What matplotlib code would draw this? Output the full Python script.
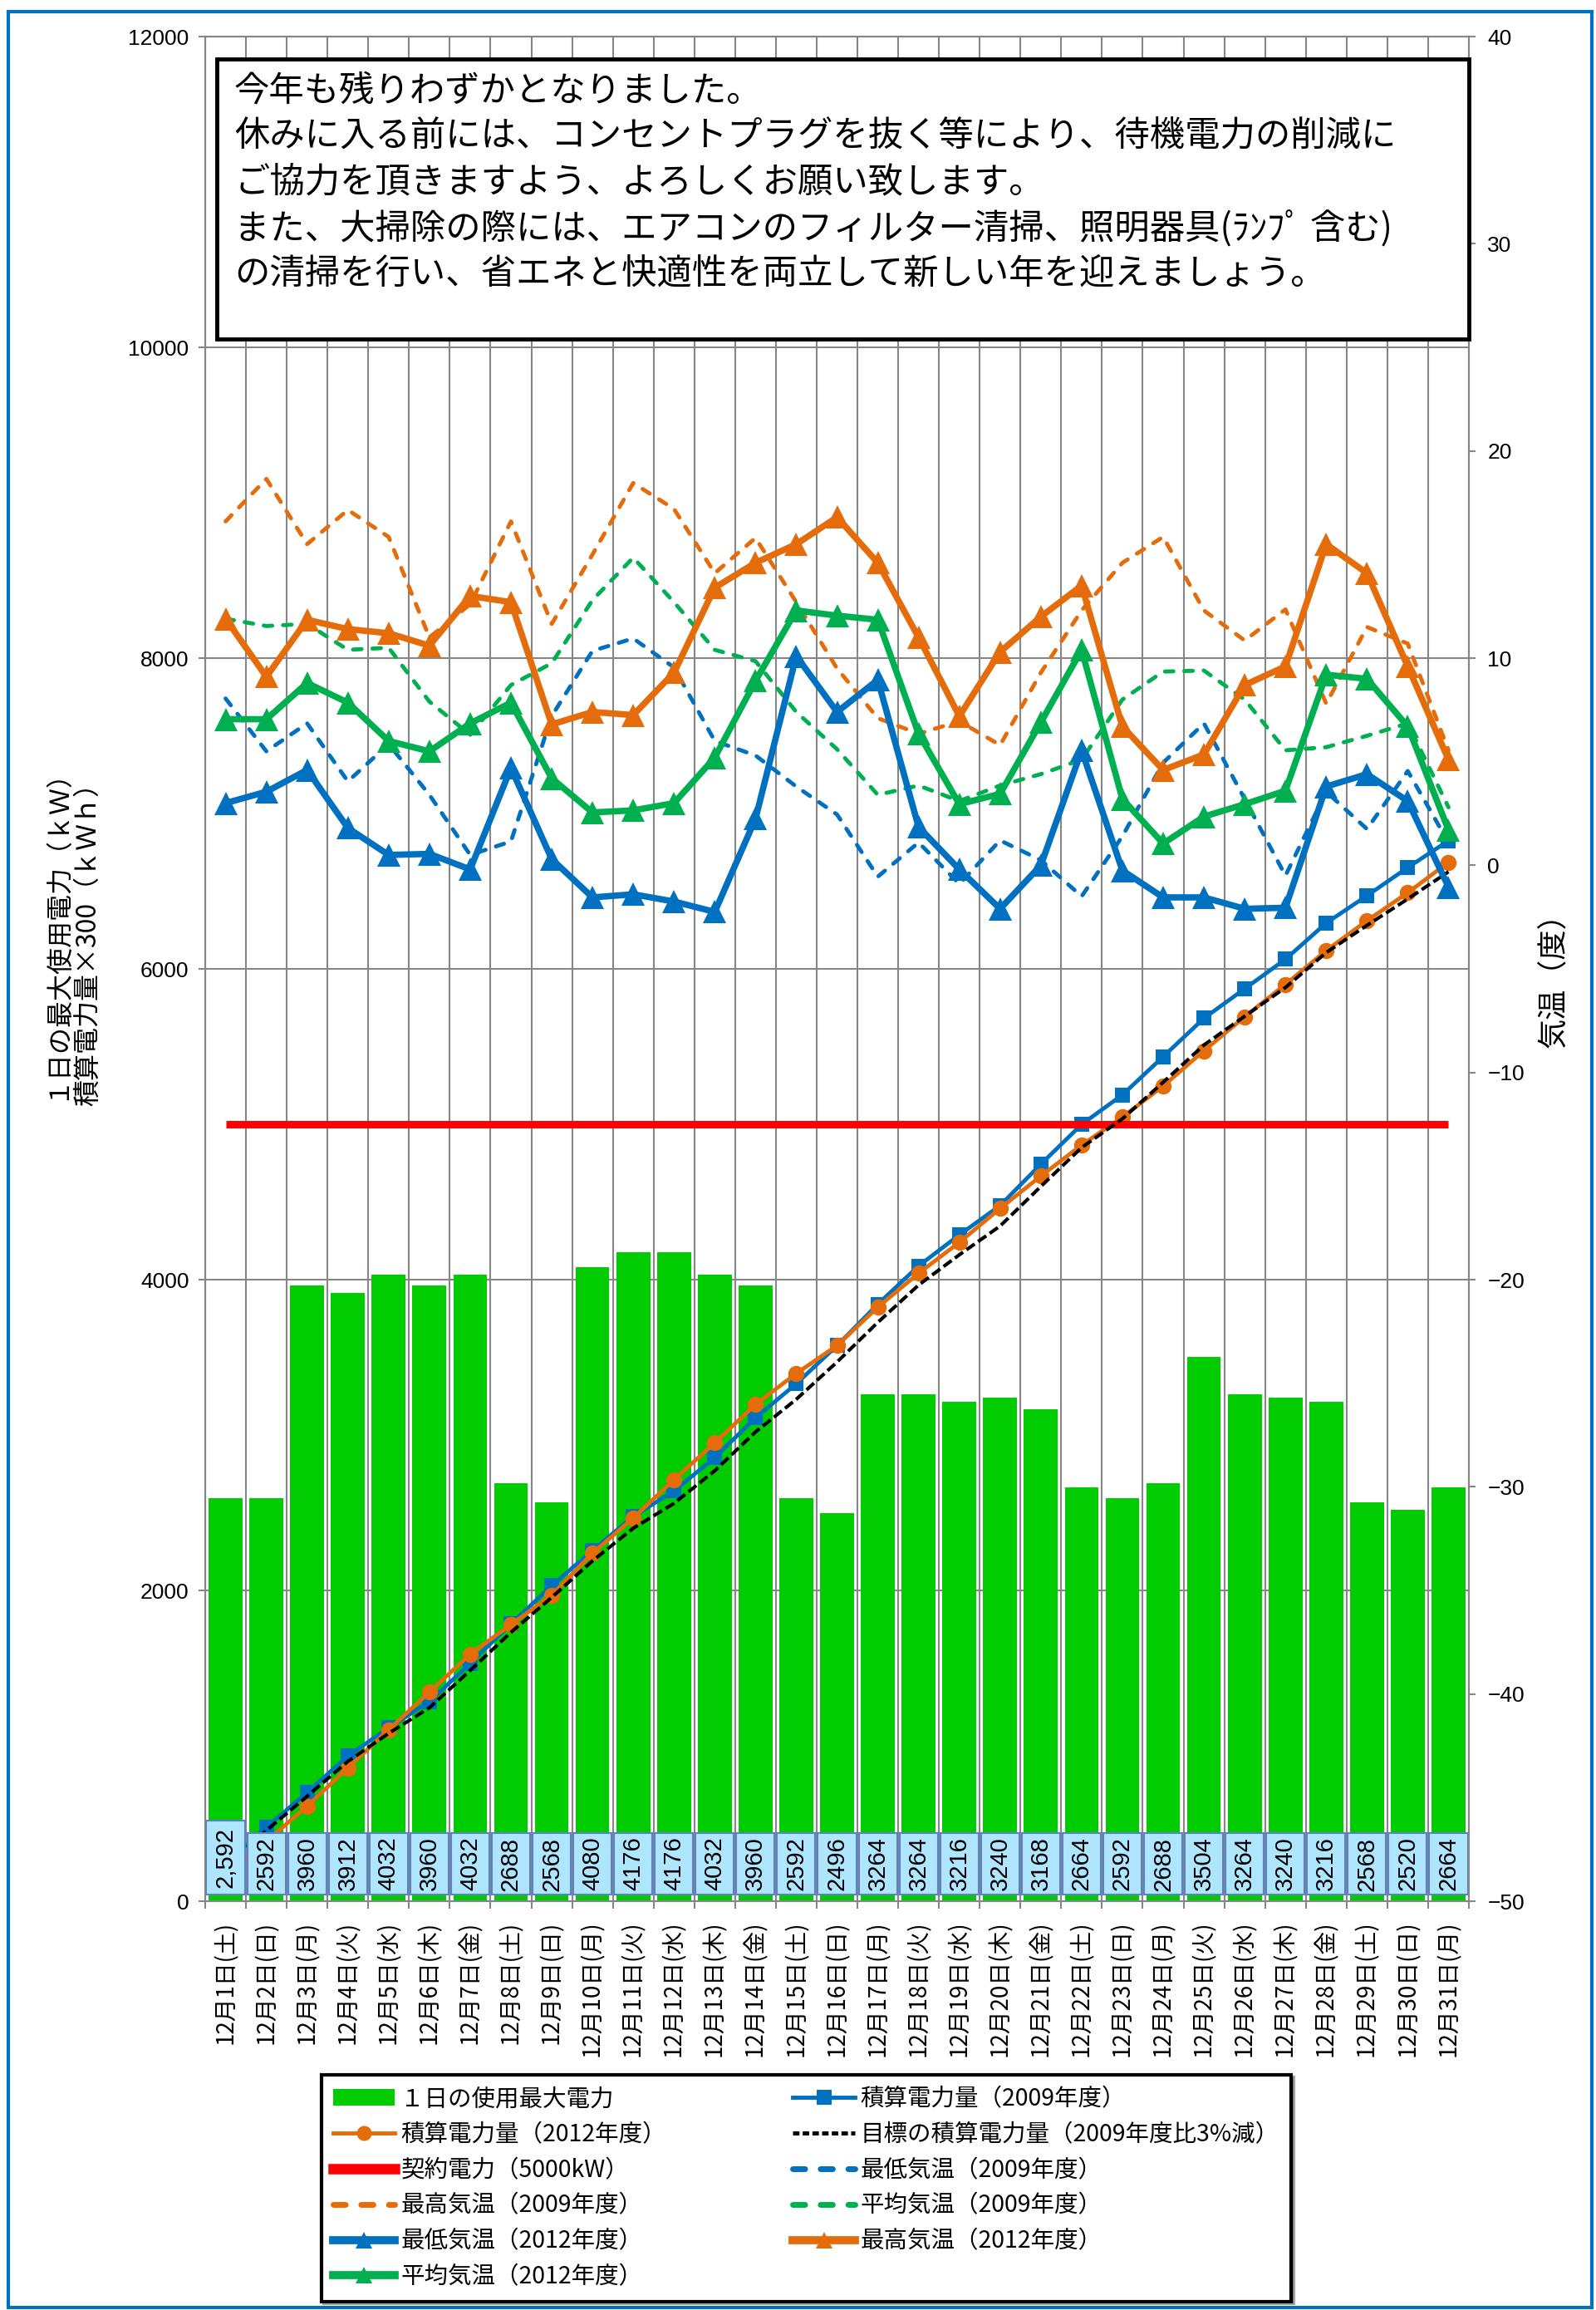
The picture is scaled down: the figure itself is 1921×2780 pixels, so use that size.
import matplotlib
matplotlib.use("Agg")
import matplotlib.pyplot as plt
from matplotlib.patches import Rectangle, Patch
from matplotlib.lines import Line2D

plt.rcParams['font.family'] = ['Noto Sans CJK JP', 'DejaVu Sans']

# ---------------- data ----------------
dates = ["12月1日(土)", "12月2日(日)", "12月3日(月)", "12月4日(火)", "12月5日(水)",
         "12月6日(木)", "12月7日(金)", "12月8日(土)", "12月9日(日)", "12月10日(月)",
         "12月11日(火)", "12月12日(水)", "12月13日(木)", "12月14日(金)", "12月15日(土)",
         "12月16日(日)", "12月17日(月)", "12月18日(火)", "12月19日(水)", "12月20日(木)",
         "12月21日(金)", "12月22日(土)", "12月23日(日)", "12月24日(月)", "12月25日(火)",
         "12月26日(水)", "12月27日(木)", "12月28日(金)", "12月29日(土)", "12月30日(日)",
         "12月31日(月)"]

peak_kw = [2592, 2592, 3960, 3912, 4032, 3960, 4032, 2688, 2568, 4080, 4176, 4176, 4032,
           3960, 2592, 2496, 3264, 3264, 3216, 3240, 3168, 2664, 2592, 2688, 3504, 3264,
           3240, 3216, 2568, 2520, 2664]
peak_labels = ["2,592", "2592", "3960", "3912", "4032", "3960", "4032", "2688", "2568",
               "4080", "4176", "4176", "4032", "3960", "2592", "2496", "3264", "3264",
               "3216", "3240", "3168", "2664", "2592", "2688", "3504", "3264", "3240",
               "3216", "2568", "2520", "2664"]

cum_2009 = [240, 475, 700, 935, 1115, 1285, 1530, 1785, 2030, 2258, 2476, 2640, 2855,
            3111, 3330, 3576, 3842, 4088, 4288, 4477, 4743, 4999, 5189, 5435, 5682, 5872,
            6062, 6295, 6471, 6652, 6825]
cum_2012 = [150, 385, 612, 858, 1104, 1346, 1590, 1780, 1970, 2239, 2466, 2713, 2950,
            3197, 3396, 3576, 3823, 4041, 4240, 4458, 4667, 4866, 5046, 5246, 5473, 5692,
            5900, 6118, 6310, 6490, 6686]
target_cum = [230, 455, 675, 900, 1080, 1245, 1485, 1730, 1955, 2190, 2400, 2560, 2770,
              3020, 3230, 3470, 3725, 3965, 4160, 4345, 4600, 4850, 5035, 5270, 5510,
              5695, 5880, 6105, 6280, 6450, 6625]
contract_kw = 5000

min_2009 = [8.05, 5.5, 6.85, 4.05, 5.85, 3.4, 0.5, 1.15, 7.2, 10.35, 10.95, 9.55, 6.0,
            5.3, 3.8, 2.45, -0.55, 1.1, -0.9, 1.2, 0.25, -1.5, 1.4, 4.95, 6.85, 3.2, -0.5,
            3.55, 1.75, 4.55, 1.1]
max_2009 = [16.6, 18.65, 15.5, 17.15, 15.85, 11.0, 12.6, 16.6, 11.65, 15.0, 18.45, 17.2,
            14.1, 15.8, 12.7, 9.5, 7.1, 6.35, 6.95, 5.8, 9.3, 12.3, 14.6, 15.85, 12.3,
            10.85, 12.35, 7.8, 11.5, 10.7, 5.55]
avg_2009 = [11.9, 11.55, 11.65, 10.4, 10.5, 7.9, 6.3, 8.7, 9.75, 12.8, 14.85, 12.7, 10.4,
            9.85, 7.4, 5.6, 3.4, 3.85, 3.1, 3.85, 4.4, 5.1, 8.0, 9.35, 9.4, 8.0, 5.55, 5.7,
            6.25, 6.85, 2.8]
min_2012 = [3.0, 3.55, 4.6, 1.8, 0.5, 0.55, -0.2, 4.7, 0.3, -1.55, -1.4, -1.75, -2.25,
            2.25, 10.1, 7.4, 8.95, 1.85, -0.2, -2.1, 0.0, 5.55, -0.25, -1.55, -1.55, -2.1,
            -2.05, 3.8, 4.4, 3.1, -1.05]
max_2012 = [11.9, 9.1, 11.85, 11.4, 11.2, 10.6, 13.0, 12.7, 6.8, 7.4, 7.25, 9.3, 13.4,
            14.6, 15.5, 16.8, 14.6, 11.0, 7.2, 10.3, 12.0, 13.5, 6.7, 4.6, 5.35, 8.7, 9.6,
            15.5, 14.1, 9.6, 5.1]
avg_2012 = [7.05, 7.05, 8.8, 7.85, 6.0, 5.5, 6.85, 7.85, 4.2, 2.55, 2.65, 3.0, 5.2, 8.9,
            12.3, 12.05, 11.85, 6.35, 2.95, 3.45, 6.9, 10.4, 3.2, 1.05, 2.35, 2.95, 3.6,
            9.2, 9.0, 6.7, 1.7]

legend_labels = ["１日の使用最大電力", "積算電力量（2009年度）", "積算電力量（2012年度）",
                 "目標の積算電力量（2009年度比3%減）", "契約電力（5000kW）",
                 "最低気温（2009年度）", "最高気温（2009年度）", "平均気温（2009年度）",
                 "最低気温（2012年度）", "最高気温（2012年度）", "平均気温（2012年度）"]

left_title = ["１日の最大使用電力（ｋＷ）", "積算電力量×300（ｋＷｈ）"]
right_title = "気温（度）"

notice_lines = ["今年も残りわずかとなりました。",
                "休みに入る前には、コンセントプラグを抜く等により、待機電力の削減に",
                "ご協力を頂きますよう、よろしくお願い致します。",
                "また、大掃除の際には、エアコンのフィルター清掃、照明器具(ﾗﾝﾌﾟ 含む)",
                "の清掃を行い、省エネと快適性を両立して新しい年を迎えましょう。"]

# ---------------- style ----------------
BLUE = '#0070C0'
ORANGE = '#E46C0A'
GREEN = '#00B050'
BARC = '#00CC00'
RED = '#FF0000'
GRID = '#868686'
NUMFONT = 'Liberation Sans'

W, H = 1921, 2780
fig = plt.figure(figsize=(W / 100, H / 100), dpi=100)
L, R, T, B = 247, 1768, 44, 2288
ax = fig.add_axes([L / W, 1 - B / H, (R - L) / W, (B - T) / H])

x = list(range(len(dates)))
ax.bar(x, peak_kw, width=0.83, color=BARC, zorder=2)
ax.plot(x, cum_2009, color=BLUE, lw=3.5, marker='s', ms=13, mew=0, zorder=3)
ax.plot(x, cum_2012, color=ORANGE, lw=3.5, marker='o', ms=14, mew=0, zorder=4)
ax.plot(x, [contract_kw] * len(x), color=RED, lw=6.5, zorder=5, solid_capstyle='butt')
ax.plot(x, target_cum, color='black', lw=3, ls=(0, (2.9, 1.2)), zorder=6)

for i, lab in enumerate(peak_labels):
    top = 519 if ',' in lab else 438
    ax.add_patch(Rectangle((i - 0.47, 43), 0.94, top - 43, fc='#AFE6FF', ec='#5B83C0',
                           lw=1.5, zorder=8))
    ax.text(i, (43 + top) / 2, lab, rotation=90, ha='center', va='center', fontsize=21,
            family=NUMFONT, zorder=9)

ax.set_xlim(-0.5, len(x) - 0.5)
ax.set_ylim(0, 12000)
ax.set_yticks(range(0, 12001, 2000))
ax.set_xticks(x)
ax.set_xticklabels(dates, rotation=90, fontsize=20)
ax.set_xticks([i - 0.5 for i in range(len(x) + 1)], minor=True)
ax.tick_params(axis='x', which='major', length=0, pad=17)
ax.tick_params(axis='x', which='minor', length=6.5, width=1.5, color=GRID, direction='out')
ax.tick_params(axis='y', length=6, width=1.5, color=GRID, direction='out', pad=8,
               labelsize=19)
for t in ax.get_yticklabels():
    t.set_family(NUMFONT)
ax.yaxis.grid(True, which='major', color=GRID, lw=1.5)
ax.xaxis.grid(True, which='minor', color=GRID, lw=1.5)
ax.xaxis.grid(False, which='major')
ax.set_axisbelow(True)
for s in ax.spines.values():
    s.set_color(GRID)
    s.set_linewidth(1.5)

ax2 = ax.twinx()
dash09 = (0, (2.1, 2.7))
ax2.plot(x, min_2009, color=BLUE, lw=3.5, ls=dash09, dash_capstyle='round', zorder=2)
ax2.plot(x, max_2009, color=ORANGE, lw=3.5, ls=dash09, dash_capstyle='round', zorder=2)
ax2.plot(x, avg_2009, color=GREEN, lw=3.5, ls=dash09, dash_capstyle='round', zorder=2)
ax2.plot(x, min_2012, color=BLUE, lw=5.5, marker='^', ms=20, mew=0, zorder=3)
ax2.plot(x, max_2012, color=ORANGE, lw=5.5, marker='^', ms=20, mew=0, zorder=3)
ax2.plot(x, avg_2012, color=GREEN, lw=5.5, marker='^', ms=20, mew=0, zorder=3)
ax2.set_ylim(-50, 40)
ax2.set_yticks(range(-50, 41, 10))
ax2.tick_params(axis='y', length=6, width=1.5, color=GRID, direction='out', pad=10,
                labelsize=19)
for t in ax2.get_yticklabels():
    t.set_family(NUMFONT)
for s in ax2.spines.values():
    s.set_color(GRID)
    s.set_linewidth(1.5)

# axis titles
fig.text(67 / W, 1 - 1116 / H, left_title[0], rotation=90, ha='center',
         va='center', fontsize=23)
fig.text(106 / W, 1 - 1128 / H, left_title[1], rotation=90, ha='center',
         va='center', fontsize=23)
fig.text(1871 / W, 1 - 1171 / H, right_title, rotation=90, ha='center', va='center',
         fontsize=26)

# notice box
fig.add_artist(Rectangle((261 / W, 1 - 408 / H), (1768 - 261) / W, (408 - 71) / H,
                         transform=fig.transFigure, fc='white', ec='black', lw=3.5,
                         zorder=10))
for k, line in enumerate(notice_lines):
    fig.text(282 / W, 1 - (110 + 55 * k) / H, line, ha='left', va='center',
             fontsize=30.5, zorder=11)

# legend
dash_leg = (0, (2.1, 2.7))
handles = [
    Patch(fc=BARC, ec='none'),
    Line2D([], [], color=BLUE, lw=3.5, marker='s', ms=13, mew=0),
    Line2D([], [], color=ORANGE, lw=3.5, marker='o', ms=13, mew=0),
    Line2D([], [], color='black', lw=3.5, ls=(0, (1.6, 0.8))),
    Line2D([], [], color=RED, lw=9),
    Line2D([], [], color=BLUE, lw=5, ls=dash_leg, dash_capstyle='round'),
    Line2D([], [], color=ORANGE, lw=5, ls=dash_leg, dash_capstyle='round'),
    Line2D([], [], color=GREEN, lw=5, ls=dash_leg, dash_capstyle='round'),
    Line2D([], [], color=BLUE, lw=7, marker='^', ms=15, mew=0),
    Line2D([], [], color=ORANGE, lw=7, marker='^', ms=15, mew=0),
    Line2D([], [], color=GREEN, lw=7, marker='^', ms=15, mew=0),
]
order = [0, 2, 4, 6, 8, 10, 1, 3, 5, 7, 9]
leg = fig.legend([handles[i] for i in order], [legend_labels[i] for i in order], ncol=2,
                 loc='upper left', bbox_to_anchor=(387 / W, 1 - 2767 / H, 1167 / W, 270 / H),
                 mode='expand', borderaxespad=0, fontsize=20.5, handlelength=2.6,
                 handletextpad=0.25, labelspacing=0.45, borderpad=0.5, frameon=True,
                 fancybox=False, shadow=True, edgecolor='black', framealpha=1)
leg.get_frame().set_linewidth(3)

# outer frame
fig.add_artist(Rectangle((10 / W, 1 - 2777 / H), (1916 - 10) / W, (2777 - 14) / H,
                         transform=fig.transFigure, fill=False, ec=BLUE, lw=3, zorder=12))

fig.savefig("out.png", dpi=100)
